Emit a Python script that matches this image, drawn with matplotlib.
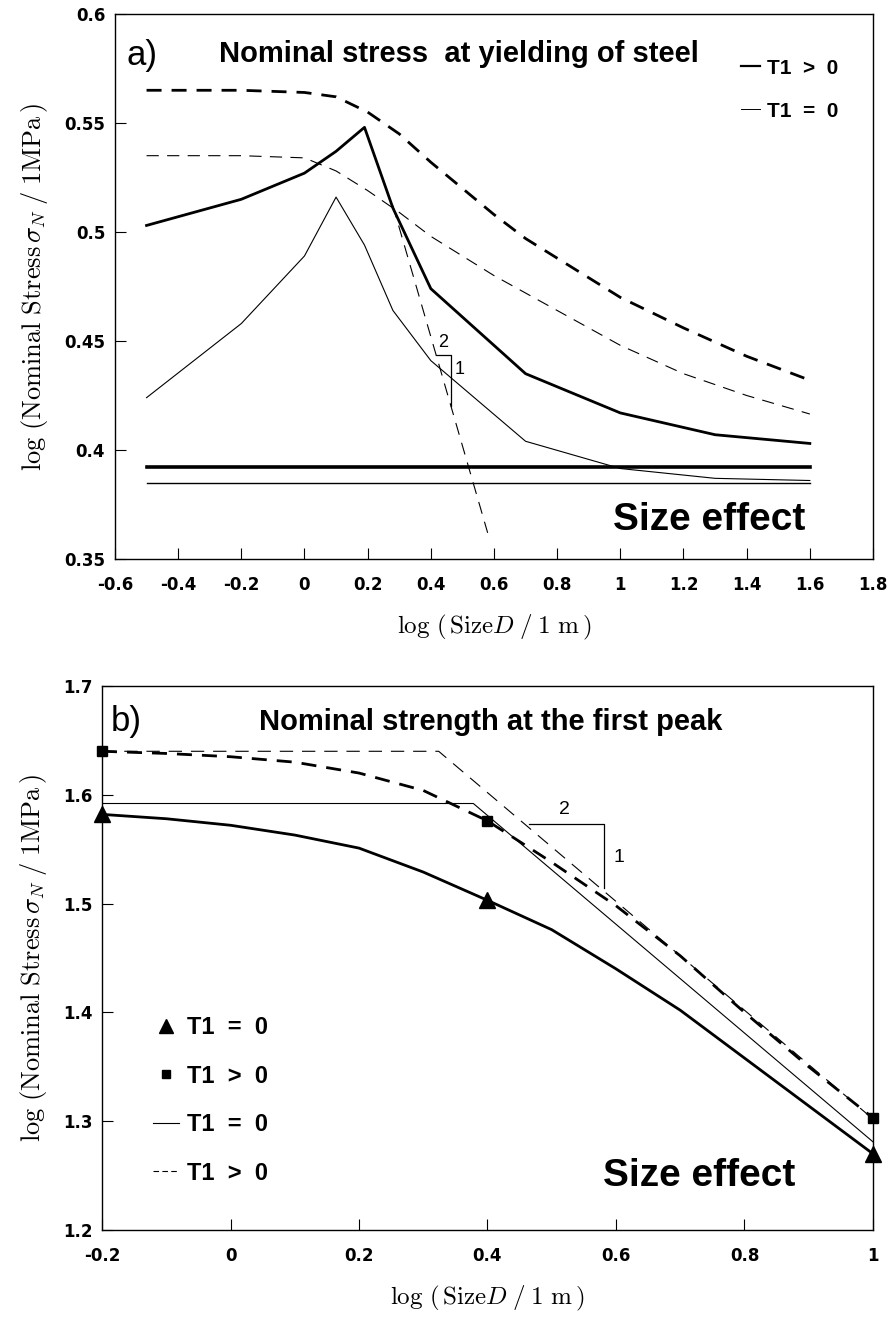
import matplotlib
matplotlib.use("Agg")
import matplotlib.pyplot as plt
from matplotlib.lines import Line2D

plt.rcParams["mathtext.fontset"] = "cm"
LABEL_FONT = "Liberation Sans"
TICK_FONT = "DejaVu Sans"

# ---- panel a: nominal stress at yielding of steel ----
xa = [-0.5, -0.2, 0.0, 0.1, 0.19, 0.28, 0.4, 0.7, 1.0, 1.3, 1.6]
a_t1_solid = [0.503, 0.515, 0.527, 0.537, 0.548, 0.511, 0.474, 0.435, 0.417, 0.407, 0.403]
a_t0_solid = [0.424, 0.458, 0.489, 0.516, 0.494, 0.464, 0.441, 0.404, 0.3915, 0.387, 0.386]
xa_dash = [-0.5, -0.2, 0.0, 0.1, 0.2, 0.3, 0.4, 0.5, 0.6, 0.7, 0.8, 1.0, 1.2, 1.4, 1.6]
a_t1_dash = [0.565, 0.565, 0.564, 0.562, 0.555, 0.545, 0.532, 0.520, 0.508, 0.497, 0.488,
             0.470, 0.456, 0.443, 0.432]
a_t0_dash = [0.535, 0.535, 0.534, 0.528, 0.519, 0.509, 0.498, 0.489, 0.480, 0.472, 0.464,
             0.448, 0.435, 0.425, 0.4165]
xa_level = [-0.5, 1.6]
a_level_t1 = [0.392, 0.392]
a_level_t0 = [0.3848, 0.3848]
xa_asym = [0.28, 0.58]
a_asym = [0.512, 0.362]
slope_a_x = [0.416, 0.464, 0.464]
slope_a_y = [0.4437, 0.4437, 0.420]

a_xticks = [-0.6, -0.4, -0.2, 0, 0.2, 0.4, 0.6, 0.8, 1.0, 1.2, 1.4, 1.6, 1.8]
a_xlabels = ["-0.6", "-0.4", "-0.2", "0", "0.2", "0.4", "0.6", "0.8", "1", "1.2", "1.4", "1.6", "1.8"]
a_yticks = [0.35, 0.4, 0.45, 0.5, 0.55, 0.6]
a_ylabels = ["0.35", "0.4", "0.45", "0.5", "0.55", "0.6"]

# ---- panel b: nominal strength at the first peak ----
xb_t0 = [-0.2, -0.1, 0.0, 0.1, 0.2, 0.3, 0.4, 0.5, 0.6, 0.7, 1.0]
b_t0 = [1.582, 1.578, 1.572, 1.563, 1.551, 1.529, 1.503, 1.476, 1.440, 1.402, 1.270]
xb_t1 = [-0.2, -0.1, 0.0, 0.1, 0.2, 0.3, 0.4, 0.5, 0.6, 0.7, 0.8, 0.9, 1.0]
b_t1 = [1.640, 1.638, 1.635, 1.630, 1.620, 1.604, 1.576, 1.538, 1.498, 1.452, 1.400, 1.350, 1.303]
xb_lin_t0 = [-0.2, 0.378, 1.0]
b_lin_t0 = [1.592, 1.592, 1.281]
xb_lin_t1 = [-0.2, 0.324, 1.0]
b_lin_t1 = [1.640, 1.640, 1.302]
slope_b_x = [0.464, 0.582, 0.582]
slope_b_y = [1.573, 1.573, 1.514]

b_xticks = [-0.2, 0, 0.2, 0.4, 0.6, 0.8, 1.0]
b_xlabels = ["-0.2", "0", "0.2", "0.4", "0.6", "0.8", "1"]
b_yticks = [1.2, 1.3, 1.4, 1.5, 1.6, 1.7]
b_ylabels = ["1.2", "1.3", "1.4", "1.5", "1.6", "1.7"]

ylab = r"$\log\,(\mathrm{Nominal\ Stress}\,\sigma_N\;/\;1\mathrm{MPa}\,)$"
xlab = r"$\log\,(\,\mathrm{Size}D\;/\;1\ \mathrm{m}\,)$"

fig = plt.figure(figsize=(8.94, 13.19), dpi=100)
ax1 = fig.add_axes([0.1286, 0.5762, 0.8479, 0.4132])
ax2 = fig.add_axes([0.1141, 0.0675, 0.8624, 0.4124])

thick_dash = (0, (5.4, 3.6))
thin_dash = (0, (11, 7.5))

# panel a
ax1.plot(xa_dash, a_t1_dash, color="k", lw=2.0, ls=thick_dash)
ax1.plot(xa_dash, a_t0_dash, color="k", lw=0.8, ls=thin_dash)
ax1.plot(xa, a_t1_solid, color="k", lw=2.0)
ax1.plot(xa, a_t0_solid, color="k", lw=0.8)
ax1.plot(xa_level, a_level_t1, color="k", lw=2.6)
ax1.plot(xa_level, a_level_t0, color="k", lw=1.0)
ax1.plot(xa_asym, a_asym, color="k", lw=0.8, ls=thin_dash)
ax1.plot(slope_a_x, slope_a_y, color="k", lw=0.9)
ax1.text(0.44, 0.4452, "2", ha="center", va="bottom", fontsize=13, family=LABEL_FONT)
ax1.text(0.476, 0.437, "1", ha="left", va="center", fontsize=13, family=LABEL_FONT)

ax1.set_xlim(-0.6, 1.8)
ax1.set_ylim(0.35, 0.6)
ax1.text(-0.562, 0.581, "a)", fontsize=25, family=LABEL_FONT, va="center")
ax1.text(0.49, 0.5815, "Nominal stress  at yielding of steel", ha="center", va="center",
         fontsize=21, fontweight="bold", family=LABEL_FONT)
ax1.text(1.585, 0.368, "Size effect", ha="right", va="center", fontsize=28,
         fontweight="bold", family=LABEL_FONT)
h_a = [Line2D([], [], color="k", lw=1.6), Line2D([], [], color="k", lw=0.7)]
ax1.legend(h_a, ["T1  >  0", "T1  =  0"], loc="upper left", bbox_to_anchor=(0.826, 0.918),
           frameon=False, handlelength=0.9, handletextpad=0.35, labelspacing=1.15,
           borderpad=0, borderaxespad=0,
           prop={"family": LABEL_FONT, "weight": "bold", "size": 15})

# panel b
ax2.plot(xb_lin_t1, b_lin_t1, color="k", lw=0.8, ls=(0, (12, 8)))
ax2.plot(xb_lin_t0, b_lin_t0, color="k", lw=0.8)
ax2.plot(xb_t1, b_t1, color="k", lw=2.0, ls=thick_dash, marker="s", ms=7,
         markevery=[0, 6, 12], clip_on=False)
ax2.plot(xb_t0, b_t0, color="k", lw=2.0, marker="^", ms=11,
         markevery=[0, 6, 10], clip_on=False)
ax2.plot(slope_b_x, slope_b_y, color="k", lw=0.9)
ax2.text(0.52, 1.579, "2", ha="center", va="bottom", fontsize=14, family=LABEL_FONT)
ax2.text(0.596, 1.542, "1", ha="left", va="center", fontsize=14, family=LABEL_FONT)

ax2.set_xlim(-0.2, 1.0)
ax2.set_ylim(1.2, 1.7)
ax2.text(-0.186, 1.667, "b)", fontsize=25, family=LABEL_FONT, va="center")
ax2.text(0.405, 1.667, "Nominal strength at the first peak", ha="center", va="center",
         fontsize=21, fontweight="bold", family=LABEL_FONT)
ax2.text(0.879, 1.250, "Size effect", ha="right", va="center", fontsize=28,
         fontweight="bold", family=LABEL_FONT)
h_b = [Line2D([], [], color="k", ls="none", marker="^", ms=10),
       Line2D([], [], color="k", ls="none", marker="s", ms=6),
       Line2D([], [], color="k", lw=0.8),
       Line2D([], [], color="k", lw=0.8, ls=(0, (5, 3)))]
ax2.legend(h_b, ["T1  =  0", "T1  >  0", "T1  =  0", "T1  >  0"], loc="upper left",
           bbox_to_anchor=(0.066, 0.393), frameon=False, handlelength=1.1,
           handletextpad=0.35, labelspacing=1.08, borderpad=0, borderaxespad=0,
           prop={"family": LABEL_FONT, "weight": "bold", "size": 17})

for ax, xt, xl, yt, yl in [(ax1, a_xticks, a_xlabels, a_yticks, a_ylabels),
                           (ax2, b_xticks, b_xlabels, b_yticks, b_ylabels)]:
    ax.set_xticks(xt, xl, fontweight="bold", family=TICK_FONT)
    ax.set_yticks(yt, yl, fontweight="bold", family=TICK_FONT)
    ax.tick_params(direction="in", length=8, width=0.8, labelsize=12)
    ax.tick_params(axis="x", pad=12)
    ax.tick_params(axis="y", pad=7)
    for sp in ax.spines.values():
        sp.set_linewidth(1.0)
    ax.set_xlabel(xlab, fontsize=18, labelpad=14)
    ax.set_ylabel(ylab, fontsize=19, labelpad=10)

fig.savefig("out.png", dpi=100)
plt.close(fig)
